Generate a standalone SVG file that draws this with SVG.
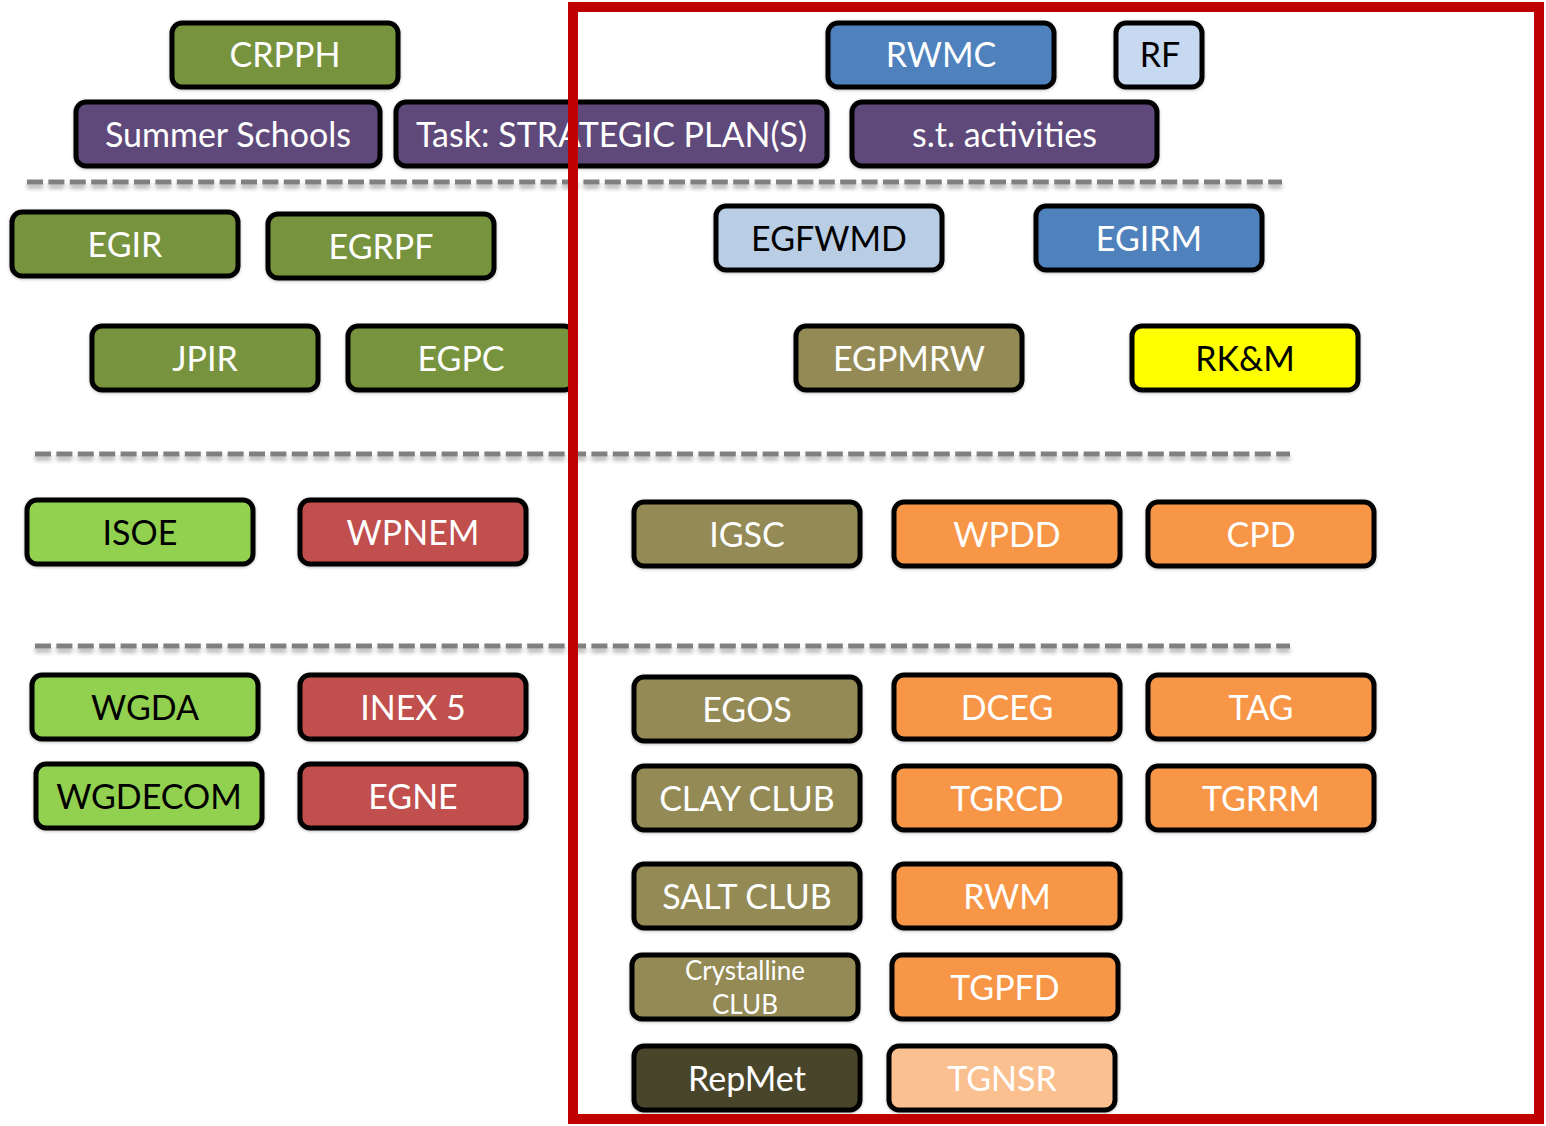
<svg xmlns="http://www.w3.org/2000/svg" width="1546" height="1126" viewBox="0 0 1546 1126">
<defs>
<filter id="sh" filterUnits="userSpaceOnUse" x="0" y="0" width="1546" height="1126">
<feDropShadow dx="0" dy="4" stdDeviation="2" flood-color="#000" flood-opacity="0.3"/>
</filter>
<filter id="bs" x="-10%" y="-20%" width="120%" height="140%">
<feDropShadow dx="0" dy="1" stdDeviation="1.5" flood-color="#000" flood-opacity="0.25"/>
</filter>
</defs>
<style>
.n rect{stroke:#000;stroke-width:5;filter:url(#bs)}
.n text{font-family:Lato,"Noto Sans",sans-serif;font-size:34px;text-anchor:middle;fill:#fff}
.n text.sm{font-size:26px}
.dk text{fill:#000}
.g rect{fill:#77933C}
.p rect{fill:#5F497A}
.b rect{fill:#4F81BD}
.lb rect{fill:#C6D9F1}
.lb2 rect{fill:#B9CDE5}
.k rect{fill:#948A54}
.y rect{fill:#FFFF00}
.lg rect{fill:#92D050}
.r rect{fill:#C0504D}
.o rect{fill:#F79646}
.d rect{fill:#4A452A}
.lo rect{fill:#FAC090}
.dash{stroke:#808080;stroke-width:5;stroke-dasharray:16 5.4;fill:none}
</style>
<g id="separators" filter="url(#sh)">
<line class="dash" x1="27" y1="182" x2="1282" y2="182"/>
<line class="dash" x1="35" y1="454" x2="1290" y2="454"/>
<line class="dash" x1="35" y1="646" x2="1290" y2="646"/>
</g>
<g id="connectors"></g>
<g id="n-crpph" class="n g"><rect x="172" y="23" width="226" height="64" rx="10"/><text x="285" y="67">CRPPH</text></g>
<g id="n-summer" class="n p"><rect x="76" y="102" width="304" height="64" rx="10"/><text x="228" y="147">Summer Schools</text></g>
<g id="n-task" class="n p"><rect x="396" y="102" width="431" height="64" rx="10"/><text x="611.5" y="147">Task: STRATEGIC PLAN(S)</text></g>
<g id="n-st" class="n p"><rect x="852" y="102" width="305" height="64" rx="10"/><text x="1004.5" y="147">s.t. activities</text></g>
<g id="n-rwmc" class="n b"><rect x="828" y="23" width="226" height="64" rx="10"/><text x="941" y="67">RWMC</text></g>
<g id="n-rf" class="n lb dk"><rect x="1116" y="23" width="86" height="64" rx="10"/><text x="1160" y="67">RF</text></g>
<g id="n-egir" class="n g"><rect x="12" y="212" width="226" height="64" rx="10"/><text x="125" y="257">EGIR</text></g>
<g id="n-egrpf" class="n g"><rect x="268" y="214" width="226" height="64" rx="10"/><text x="381" y="259">EGRPF</text></g>
<g id="n-egfwmd" class="n lb2 dk"><rect x="716" y="206" width="226" height="64" rx="10"/><text x="829" y="251">EGFWMD</text></g>
<g id="n-egirm" class="n b"><rect x="1036" y="206" width="226" height="64" rx="10"/><text x="1149" y="251">EGIRM</text></g>
<g id="n-jpir" class="n g"><rect x="92" y="326" width="226" height="64" rx="10"/><text x="205" y="371">JPIR</text></g>
<g id="n-egpc" class="n g"><rect x="348" y="326" width="226" height="64" rx="10"/><text x="461" y="371">EGPC</text></g>
<g id="n-egpmrw" class="n k"><rect x="796" y="326" width="226" height="64" rx="10"/><text x="909" y="371">EGPMRW</text></g>
<g id="n-rkm" class="n y dk"><rect x="1132" y="326" width="226" height="64" rx="10"/><text x="1245" y="371">RK&amp;M</text></g>
<g id="n-isoe" class="n lg dk"><rect x="27" y="500" width="226" height="64" rx="10"/><text x="140" y="545">ISOE</text></g>
<g id="n-wpnem" class="n r"><rect x="300" y="500" width="226" height="64" rx="10"/><text x="413" y="545">WPNEM</text></g>
<g id="n-igsc" class="n k"><rect x="634" y="502" width="226" height="64" rx="10"/><text x="747" y="547">IGSC</text></g>
<g id="n-wpdd" class="n o"><rect x="894" y="502" width="226" height="64" rx="10"/><text x="1007" y="547">WPDD</text></g>
<g id="n-cpd" class="n o"><rect x="1148" y="502" width="226" height="64" rx="10"/><text x="1261" y="547">CPD</text></g>
<g id="n-wgda" class="n lg dk"><rect x="32" y="675" width="226" height="64" rx="10"/><text x="145" y="720">WGDA</text></g>
<g id="n-inex5" class="n r"><rect x="300" y="675" width="226" height="64" rx="10"/><text x="413" y="720">INEX 5</text></g>
<g id="n-egos" class="n k"><rect x="634" y="677" width="226" height="64" rx="10"/><text x="747" y="722">EGOS</text></g>
<g id="n-dceg" class="n o"><rect x="894" y="675" width="226" height="64" rx="10"/><text x="1007" y="720">DCEG</text></g>
<g id="n-tag" class="n o"><rect x="1148" y="675" width="226" height="64" rx="10"/><text x="1261" y="720">TAG</text></g>
<g id="n-wgdecom" class="n lg dk"><rect x="36" y="764" width="226" height="64" rx="10"/><text x="149" y="809">WGDECOM</text></g>
<g id="n-egne" class="n r"><rect x="300" y="764" width="226" height="64" rx="10"/><text x="413" y="809">EGNE</text></g>
<g id="n-clay" class="n k"><rect x="634" y="766" width="226" height="64" rx="10"/><text x="747" y="811">CLAY CLUB</text></g>
<g id="n-tgrcd" class="n o"><rect x="894" y="766" width="226" height="64" rx="10"/><text x="1007" y="811">TGRCD</text></g>
<g id="n-tgrrm" class="n o"><rect x="1148" y="766" width="226" height="64" rx="10"/><text x="1261" y="811">TGRRM</text></g>
<g id="n-salt" class="n k"><rect x="634" y="864" width="226" height="64" rx="10"/><text x="747" y="909">SALT CLUB</text></g>
<g id="n-rwm" class="n o"><rect x="894" y="864" width="226" height="64" rx="10"/><text x="1007" y="909">RWM</text></g>
<g id="n-cryst" class="n k"><rect x="632" y="955" width="226" height="64" rx="10"/><text class="sm" x="745" y="980">Crystalline</text><text class="sm" x="745" y="1014">CLUB</text></g>
<g id="n-tgpfd" class="n o"><rect x="892" y="955" width="226" height="64" rx="10"/><text x="1005" y="1000">TGPFD</text></g>
<g id="n-repmet" class="n d"><rect x="634" y="1046" width="226" height="64" rx="10"/><text x="747" y="1091">RepMet</text></g>
<g id="n-tgnsr" class="n lo"><rect x="889" y="1046" width="226" height="64" rx="10"/><text x="1002" y="1091">TGNSR</text></g>
<g id="frame"><rect x="573" y="7" width="966" height="1112" fill="none" stroke="#C00000" stroke-width="10"/></g>
</svg>
